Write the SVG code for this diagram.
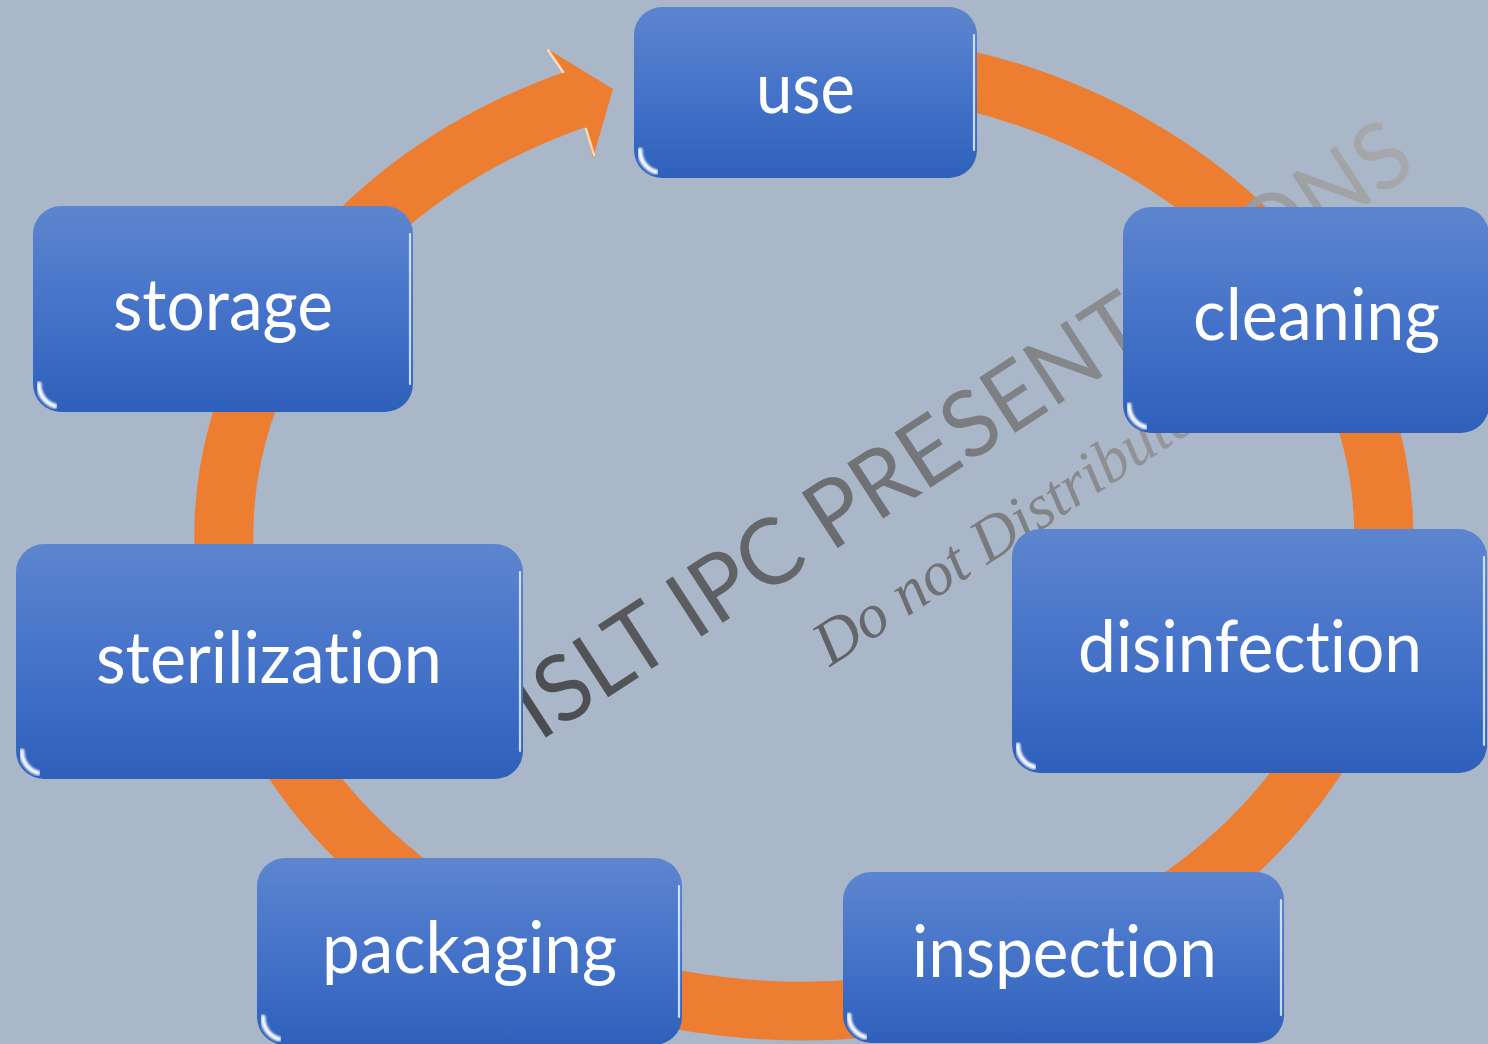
<svg xmlns="http://www.w3.org/2000/svg" width="1488" height="1044" viewBox="0 0 1488 1044">
<style>
.box{fill:url(#boxGrad);}
.hlTop{fill:none;stroke:#B8D6FF;stroke-width:4.5;stroke-linecap:round;opacity:.85;filter:url(#soft);}
.hlRight{fill:none;stroke:#D8E9FF;stroke-width:2.2;stroke-linecap:round;opacity:.9;}
.hlLeft{fill:none;stroke:#8FB2F0;stroke-width:3;stroke-linecap:round;opacity:.6;filter:url(#soft);}
.glare{fill:none;stroke:#FFFFFF;stroke-width:5;stroke-linecap:round;opacity:.95;filter:url(#soft);}
.lbl{fill:#FFFFFF;font-family:Lato,"Open Sans","Liberation Sans",sans-serif;font-size:72px;font-variant-ligatures:none;font-feature-settings:"liga" 0,"clig" 0;}
.ring{fill:none;stroke:#ED7D31;stroke-width:59;}
.wm1{font-family:Lato,"Open Sans","Liberation Sans",sans-serif;font-size:92px;fill:url(#wmGrad1);font-variant-ligatures:none;}
.wm2{font-family:"Liberation Serif","DejaVu Serif",serif;font-style:italic;font-size:63px;fill:url(#wmGrad2);}
</style>
<defs>
<linearGradient id="boxGrad" x1="0" y1="0" x2="0" y2="1">
<stop offset="0" stop-color="#5D85CF"/>
<stop offset="0.5" stop-color="#4573C9"/>
<stop offset="1" stop-color="#2E60BB"/>
</linearGradient>
<linearGradient id="wmGrad1" gradientUnits="userSpaceOnUse" x1="0" y1="10" x2="1050" y2="-160">
<stop offset="0" stop-color="#484A4E"/>
<stop offset="0.5" stop-color="#7A7C80"/>
<stop offset="1" stop-color="#AAABAE"/>
</linearGradient>
<linearGradient id="wmGrad2" gradientUnits="userSpaceOnUse" x1="0" y1="0" x2="440" y2="-60">
<stop offset="0" stop-color="#5E6064"/>
<stop offset="1" stop-color="#9A9CA0"/>
</linearGradient>
<filter id="soft" x="-10%" y="-10%" width="120%" height="120%">
<feGaussianBlur stdDeviation="0.8"/>
</filter>
</defs>
<rect width="1488" height="1044" fill="#AAB7C9"/>

<g id="connectors">
<path class="ring" d="M 900 67.6 A 580 475 0 1 1 580 97.8"/>
<polygon points="565,72 546,48 613,89 593,158 585,127" fill="#ED7D31"/>
<path d="M 548 50 L 563 72 M 586 129 L 594 155" fill="none" stroke="#FFE0C2" stroke-width="2.5" stroke-linecap="round" opacity="0.9"/>
</g>

<g id="watermark">
<text class="wm1" transform="translate(539,742) rotate(-33)" x="0" y="0" textLength="1050" lengthAdjust="spacingAndGlyphs">ISLT IPC PRESENTATIONS</text>
<text class="wm2" transform="translate(830,667) rotate(-33)" x="0" y="0" textLength="440" lengthAdjust="spacingAndGlyphs">Do not Distribute</text>
</g>

<g id="node-use">
<rect class="box" x="634" y="7" width="343" height="171" rx="28"/>
<path class="hlTop" d="M 660 13 H 951"/>
<path class="hlLeft" d="M 639 35 V 150"/>
<path class="hlRight" d="M 974 35 V 150"/>
<path class="glare" d="M 640 150 A 22 22 0 0 0 656 172"/>
<text class="lbl" x="756" y="113" textLength="99" lengthAdjust="spacingAndGlyphs">use</text>
</g>

<g id="node-cleaning">
<rect class="box" x="1123" y="207" width="366" height="226" rx="28"/>
<path class="hlTop" d="M 1149 213 H 1463"/>
<path class="hlLeft" d="M 1128 235 V 405"/>
<path class="glare" d="M 1129 405 A 22 22 0 0 0 1145 427"/>
<text class="lbl" x="1193" y="340" textLength="247" lengthAdjust="spacingAndGlyphs">cleaning</text>
</g>

<g id="node-disinfection">
<rect class="box" x="1012" y="529" width="475" height="244" rx="28"/>
<path class="hlTop" d="M 1038 535 H 1461"/>
<path class="hlLeft" d="M 1017 557 V 745"/>
<path class="hlRight" d="M 1484 557 V 745"/>
<path class="glare" d="M 1018 745 A 22 22 0 0 0 1034 767"/>
<text class="lbl" x="1078" y="672" textLength="344" lengthAdjust="spacingAndGlyphs">disinfection</text>
</g>

<g id="node-inspection">
<rect class="box" x="843" y="872" width="441" height="171" rx="28"/>
<path class="hlTop" d="M 869 878 H 1258"/>
<path class="hlLeft" d="M 848 900 V 1015"/>
<path class="hlRight" d="M 1281 900 V 1015"/>
<path class="glare" d="M 849 1015 A 22 22 0 0 0 865 1037"/>
<text class="lbl" x="912" y="977" textLength="305" lengthAdjust="spacingAndGlyphs">inspection</text>
</g>

<g id="node-packaging">
<rect class="box" x="257" y="858" width="425" height="187" rx="28"/>
<path class="hlTop" d="M 283 864 H 656"/>
<path class="hlLeft" d="M 262 886 V 1017"/>
<path class="hlRight" d="M 679 886 V 1017"/>
<path class="glare" d="M 263 1017 A 22 22 0 0 0 279 1039"/>
<text class="lbl" x="322" y="973" textLength="295" lengthAdjust="spacingAndGlyphs">packaging</text>
</g>

<g id="node-sterilization">
<rect class="box" x="16" y="544" width="507" height="235" rx="28"/>
<path class="hlTop" d="M 42 550 H 497"/>
<path class="hlLeft" d="M 21 572 V 751"/>
<path class="hlRight" d="M 520 572 V 751"/>
<path class="glare" d="M 22 751 A 22 22 0 0 0 38 773"/>
<text class="lbl" x="96" y="683" textLength="346" lengthAdjust="spacingAndGlyphs">sterilization</text>
</g>

<g id="node-storage">
<rect class="box" x="33" y="206" width="380" height="206" rx="28"/>
<path class="hlTop" d="M 59 212 H 387"/>
<path class="hlLeft" d="M 38 234 V 384"/>
<path class="hlRight" d="M 410 234 V 384"/>
<path class="glare" d="M 39 384 A 22 22 0 0 0 55 406"/>
<text class="lbl" x="113" y="330" textLength="220" lengthAdjust="spacingAndGlyphs">storage</text>
</g>
</svg>
